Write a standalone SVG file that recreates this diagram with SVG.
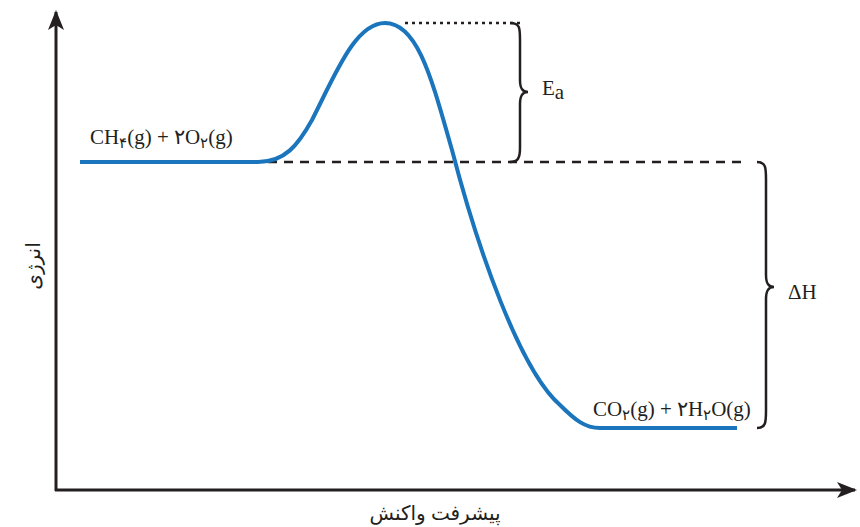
<svg xmlns="http://www.w3.org/2000/svg" width="860" height="527" viewBox="0 0 860 527">
<style>
.axis{stroke:#231f20;stroke-width:3;fill:none}
.curve{stroke:#1a75bc;stroke-width:4;fill:none;stroke-linecap:butt}
.guide{stroke:#231f20;stroke-width:2.5;fill:none}
.brace{stroke:#231f20;stroke-width:2.5;fill:none}
.lbl{font-family:"Liberation Serif","DejaVu Serif",serif;font-size:21px;fill:#231f20}
.fa{font-family:"Noto Sans","DejaVu Sans",sans-serif;font-size:20px;fill:#231f20}
.sub{font-size:15px}
</style>
<defs>
<marker id="ah" viewBox="0 0 20 20" refX="18" refY="10" markerWidth="20" markerHeight="20" markerUnits="userSpaceOnUse" orient="auto">
<path d="M0,2 L20,10 L0,18 L5,10 Z" fill="#231f20"/>
</marker>
</defs>
<g id="axes">
<line class="axis" x1="56" y1="491" x2="56" y2="12" marker-end="url(#ah)"/>
<line class="axis" x1="55" y1="490" x2="855" y2="490" marker-end="url(#ah)"/>
<text class="fa" transform="translate(40,266) rotate(-90)" text-anchor="middle">انرژی</text>
<text class="fa" x="435" y="520" text-anchor="middle">پیشرفت واکنش</text>
</g>
<g id="connectors">
<line class="guide" x1="405" y1="23" x2="520" y2="23" stroke-dasharray="3 4"/>
<line class="guide" x1="268" y1="162" x2="745" y2="162" stroke-dasharray="9 7"/>
</g>
<g id="curve">
<path class="curve" d="M80,162 H258 C285,162 298,145 312,120 C335,75 355,23 385,23 C418,23 432,80 452,150 C478,250 520,370 560,405 C575,420 585,428 600,428 H737"/>
</g>
<g id="reactants">
<text class="lbl" x="90" y="144">CH<tspan class="sub" dy="4">۴</tspan><tspan dy="-4">(g) + ۲O</tspan><tspan class="sub" dy="4">۲</tspan><tspan dy="-4">(g)</tspan></text>
</g>
<g id="products">
<text class="lbl" x="593" y="416">CO<tspan class="sub" dy="4">۲</tspan><tspan dy="-4">(g) + ۲H</tspan><tspan class="sub" dy="4">۲</tspan><tspan dy="-4">O(g)</tspan></text>
</g>
<g id="ea">
<path class="brace" d="M510,23 C520,23 520,28 520,40 V80 C520,88 522,92 528,92 C522,92 520,96 520,104 V148 C520,158 518,162 510,162"/>
<text class="lbl" x="542" y="95">E<tspan dy="4">a</tspan></text>
</g>
<g id="dh">
<path class="brace" d="M757,162 C766,162 766,168 766,180 V275 C766,283 768,287 774,287 C768,287 766,291 766,299 V410 C766,422 766,428 757,428"/>
<text class="lbl" x="788" y="299">ΔH</text>
</g>
</svg>
